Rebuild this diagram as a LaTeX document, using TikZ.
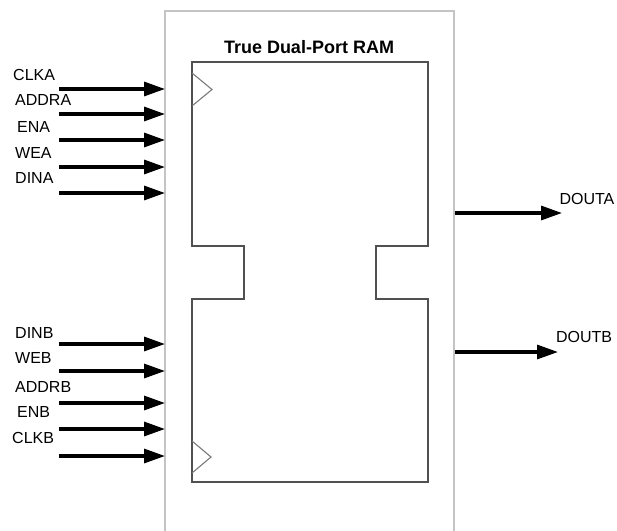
\documentclass[tikz,border=0pt]{standalone}
\usepackage{fontspec}
\setmainfont{Liberation Sans}
\usetikzlibrary{arrows.meta}
\definecolor{outerc}{HTML}{C4C4C4}
\definecolor{innerc}{HTML}{505050}
\definecolor{clkc}{HTML}{7A7A7A}
\tikzset{
  sig/.style={line width=3.2pt,-{Triangle[length=21pt,width=14pt]}},
  lbl/.style={font=\fontsize{16}{18}\selectfont,inner sep=0pt,anchor=west},
  olbl/.style={font=\fontsize{16}{18}\selectfont,inner sep=0pt},
  outerbox/.style={draw=outerc,line width=1.4pt},
  innerbox/.style={draw=innerc,line width=1.6pt},
  clk/.style={draw=clkc,line width=1.1pt}
}
\begin{document}
\begin{tikzpicture}[x=1pt,y=-1pt]
\useasboundingbox (0,0) rectangle (617,530);
% outer box
\draw[outerbox] (165,531) -- (165,11) -- (454,11) -- (454,531);
\node[font=\bfseries\fontsize{18}{20}\selectfont,inner sep=0pt] (title) at (309,47.5) {True Dual-Port RAM};
% inner memory shape
\draw[innerbox] (192,62) -- (428,62) -- (428,246) -- (376,246) -- (376,299) -- (428,299)
  -- (428,482) -- (192,482) -- (192,299) -- (244,299) -- (244,246) -- (192,246) -- cycle;
% clock triangles
\draw[clk] (192,73) -- (212,89.5) -- (192,106);
\draw[clk] (192,441) -- (211,457) -- (192,473);
% port A inputs
\foreach \n/\y in {clka/89,addra/114,ena/140,wea/167,dina/193}{
  \coordinate (s\n) at (59,\y);
  \coordinate (e\n) at (165,\y);
}
\node[lbl] (lclka) at (13,75) {CLKA};
\node[lbl] (laddra) at (15,100) {ADDRA};
\node[lbl] (lena) at (17,127) {ENA};
\node[lbl] (lwea) at (15,153) {WEA};
\node[lbl] (ldina) at (15,178) {DINA};
\foreach \n in {clka,addra,ena,wea,dina}{\draw[sig] (s\n) -- (e\n);}
% port B inputs
\foreach \n/\y in {dinb/344,web/371,addrb/403,enb/429,clkb/456}{
  \coordinate (s\n) at (59,\y);
  \coordinate (e\n) at (165,\y);
}
\node[lbl] (ldinb) at (15,333) {DINB};
\node[lbl] (lweb) at (15,358) {WEB};
\node[lbl] (laddrb) at (15,387) {ADDRB};
\node[lbl] (lenb) at (17,412) {ENB};
\node[lbl] (lclkb) at (12,438) {CLKB};
\foreach \n in {dinb,web,addrb,enb,clkb}{\draw[sig] (s\n) -- (e\n);}
% outputs
\coordinate (sdouta) at (455,213);
\coordinate (edouta) at (562,213);
\coordinate (sdoutb) at (455,352);
\coordinate (edoutb) at (558,352);
\draw[sig] (sdouta) -- (edouta);
\draw[sig] (sdoutb) -- (edoutb);
\node[olbl] (ldouta) at (587,199) {DOUTA};
\node[olbl] (ldoutb) at (584,337) {DOUTB};
\end{tikzpicture}
\end{document}
